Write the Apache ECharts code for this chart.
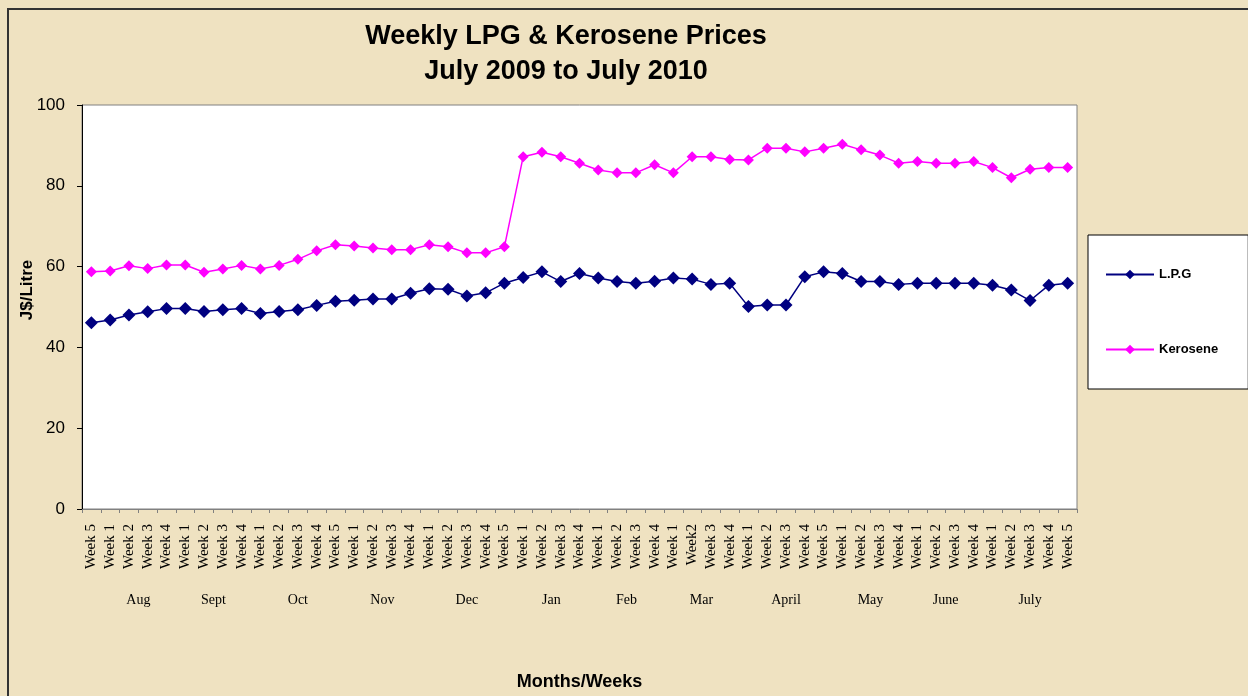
<!DOCTYPE html>
<html lang="en">

<head>
    <meta charset="UTF-8">
    <title>Weekly LPG & Kerosene Prices</title>
    <script src="https://cdn.jsdelivr.net/npm/echarts@6/dist/echarts.min.js"></script>
    <style>
        body { margin: 0; }
        #wrap { position: relative; width: 1248px; height: 696px; background: #efe2c1; overflow: hidden; }
        #frame { position: absolute; left: 7px; top: 8px; width: 1260px; height: 700px; border-left: 2px solid #333; border-top: 2px solid #333; }
        #main { position: absolute; left: 0; top: 0; width: 1248px; height: 696px; }
    </style>
</head>

<body>
    <div id="wrap">
        <div id="frame"></div>
        <div id="main"></div>
    </div>
    <script>
        // one entry per week, July 2009 week 5 to July 2010 week 5
        const weeks = [
            'Week 5',
            'Week 1', 'Week 2', 'Week 3', 'Week 4',
            'Week 1', 'Week 2', 'Week 3', 'Week 4',
            'Week 1', 'Week 2', 'Week 3', 'Week 4', 'Week 5',
            'Week 1', 'Week 2', 'Week 3', 'Week 4',
            'Week 1', 'Week 2', 'Week 3', 'Week 4', 'Week 5',
            'Week 1', 'Week 2', 'Week 3', 'Week 4',
            'Week 1', 'Week 2', 'Week 3', 'Week 4',
            'Week 1', 'Week2', 'Week 3', 'Week 4',
            'Week 1', 'Week 2', 'Week 3', 'Week 4', 'Week 5',
            'Week 1', 'Week 2', 'Week 3', 'Week 4',
            'Week 1', 'Week 2', 'Week 3', 'Week 4',
            'Week 1', 'Week 2', 'Week 3', 'Week 4', 'Week 5'
        ];

        // month name and how many weeks it covers (first week is July 2009, unlabelled)
        const months = ['', 'Aug', 'Sept', 'Oct', 'Nov', 'Dec', 'Jan', 'Feb', 'Mar', 'April', 'May', 'June', 'July'];
        const monthWeeks = [1, 4, 4, 5, 4, 5, 4, 4, 4, 5, 4, 4, 5];

        const lpg = [
            46.1, 46.8, 48.0, 48.8, 49.6, 49.6, 48.9, 49.3, 49.6, 48.4,
            48.9, 49.3, 50.4, 51.4, 51.7, 52.0, 52.0, 53.4, 54.5, 54.4,
            52.7, 53.5, 55.9, 57.3, 58.7, 56.3, 58.3, 57.2, 56.3, 55.9,
            56.4, 57.2, 56.9, 55.6, 55.9, 50.1, 50.5, 50.5, 57.5, 58.7,
            58.3, 56.3, 56.3, 55.6, 55.9, 55.9, 55.9, 55.9, 55.4, 54.2,
            51.6, 55.4, 55.9
        ];

        const kerosene = [
            58.7, 58.9, 60.2, 59.5, 60.4, 60.4, 58.6, 59.4, 60.3, 59.4,
            60.3, 61.8, 63.9, 65.4, 65.1, 64.6, 64.2, 64.2, 65.4, 64.9,
            63.4, 63.4, 64.9, 87.2, 88.3, 87.2, 85.6, 83.9, 83.2, 83.2,
            85.2, 83.2, 87.2, 87.2, 86.5, 86.4, 89.3, 89.3, 88.4, 89.3,
            90.3, 88.9, 87.6, 85.6, 86.0, 85.6, 85.6, 86.0, 84.5, 82.0,
            84.1, 84.5, 84.5
        ];

        // half-week slots so a month name can sit in the middle of its weeks
        const monthSlots = new Array(weeks.length * 2 + 1).fill('');
        let start = 0;
        months.forEach((m, i) => {
            const end = start + monthWeeks[i] - 1;
            if (m) monthSlots[start + end + 1] = m;
            start = end + 1;
        });

        const chart = echarts.init(document.getElementById('main'));

        const option = {
            animation: false,
            title: {
                text: 'Weekly LPG & Kerosene Prices\nJuly 2009 to July 2010',
                left: 561,
                top: 14,
                textAlign: 'center',
                textStyle: {
                    fontFamily: 'Liberation Sans, Arial',
                    fontSize: 27,
                    fontWeight: 'bold',
                    color: '#000',
                    lineHeight: 35
                }
            },
            legend: {
                orient: 'vertical',
                left: 1088,
                top: 235,
                backgroundColor: '#fff',
                borderColor: '#000',
                borderWidth: 1,
                borderRadius: 0,
                padding: [33, 30, 33, 17],
                itemGap: 62,
                itemWidth: 48,
                itemHeight: 12,
                textStyle: {
                    fontFamily: 'Liberation Sans, Arial',
                    fontSize: 13,
                    fontWeight: 'bold',
                    color: '#000'
                },
                data: ['L.P.G', 'Kerosene']
            },
            grid: {
                left: 82,
                right: 171,
                top: 105,
                bottom: 187,
                outerBoundsMode: 'none',
                containLabel: false,
                show: true,
                backgroundColor: '#fff',
                borderColor: '#808080',
                borderWidth: 1
            },
            xAxis: [{
                type: 'category',
                data: weeks,
                boundaryGap: true,
                name: 'Months/Weeks',
                nameLocation: 'middle',
                nameGap: 164,
                nameTextStyle: {
                    fontFamily: 'Liberation Sans, Arial',
                    fontSize: 18,
                    fontWeight: 'bold',
                    color: '#000'
                },
                axisLine: { lineStyle: { color: '#808080', width: 1 } },
                axisTick: { show: true, length: 4, lineStyle: { color: '#808080' } },
                axisLabel: {
                    interval: 0,
                    rotate: 90,
                    margin: 15,
                    fontFamily: 'Liberation Serif, Times New Roman',
                    fontSize: 15,
                    color: '#000'
                },
                splitLine: { show: false }
            }, {
                type: 'category',
                position: 'bottom',
                data: monthSlots,
                boundaryGap: false,
                axisLine: { show: false },
                axisTick: { show: false },
                axisLabel: {
                    interval: 0,
                    margin: 84,
                    fontFamily: 'Liberation Serif, Times New Roman',
                    fontSize: 14,
                    color: '#000'
                },
                splitLine: { show: false }
            }],
            yAxis: {
                type: 'value',
                min: 0,
                max: 100,
                interval: 20,
                name: 'J$/Litre',
                nameLocation: 'middle',
                nameGap: 46,
                nameMoveOverlap: false,
                nameTextStyle: {
                    fontFamily: 'Liberation Sans, Arial',
                    fontSize: 17,
                    fontWeight: 'bold',
                    color: '#000',
                    padding: [0, 0, 0, 34]
                },
                axisLine: { show: true, lineStyle: { color: '#000', width: 1 } },
                axisTick: { show: true, length: 5, lineStyle: { color: '#000' } },
                axisLabel: {
                    margin: 17,
                    fontFamily: 'Liberation Sans, Arial',
                    fontSize: 17,
                    color: '#000'
                },
                splitLine: { show: false }
            },
            series: [{
                name: 'L.P.G',
                type: 'line',
                xAxisIndex: 0,
                data: lpg,
                symbol: 'diamond',
                symbolSize: 13,
                itemStyle: { color: '#000080' },
                lineStyle: { color: '#000080', width: 1.5 }
            }, {
                name: 'Kerosene',
                type: 'line',
                xAxisIndex: 0,
                data: kerosene,
                symbol: 'diamond',
                symbolSize: 11,
                itemStyle: { color: '#ff00ff' },
                lineStyle: { color: '#ff00ff', width: 1.5 }
            }]
        };

        chart.setOption(option);
    </script>
</body>

</html>
